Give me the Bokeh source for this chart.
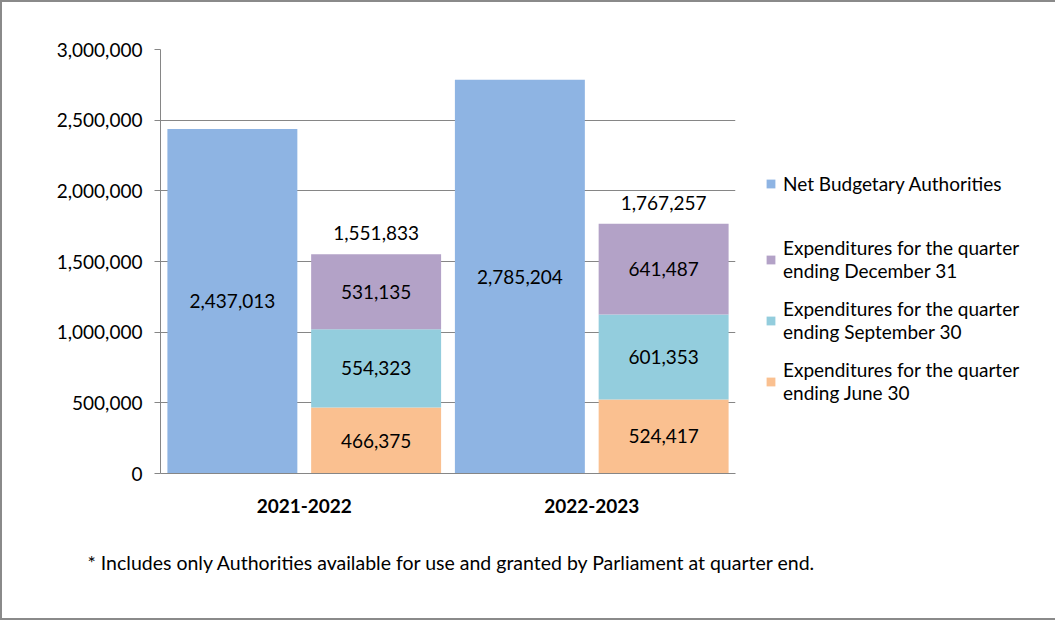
from bokeh.plotting import figure
from bokeh.models import (ColumnDataSource, FixedTicker, NumeralTickFormatter, Legend,
                          LegendItem, Title, Range1d)
from bokeh.core.properties import value
from bokeh.embed import file_html
from bokeh.resources import INLINE

# ---- data ----
years = ["2021-2022", "2022-2023"]
net_authorities = [2437013, 2785204]
q_june = [466375, 524417]
q_sept = [554323, 601353]
q_dec = [531135, 641487]
y_ticks = [0, 500000, 1000000, 1500000, 2000000, 2500000, 3000000]
legend_labels = ["Net Budgetary Authorities",
                 "Expenditures for the quarter\nending December 31",
                 "Expenditures for the quarter\nending September 30",
                 "Expenditures for the quarter\nending June 30"]
footnote = "* Includes only Authorities available for use and granted by Parliament at quarter end."

C_NET = "#8EB4E3"
C_DEC = "#B3A2C7"
C_SEP = "#93CDDD"
C_JUN = "#FAC090"
GRID = "#868686"
FONT = "Lato"
FS = "19px"

n = len(years)
x_net = [i + 0.25 for i in range(n)]
x_exp = [i + 0.75 for i in range(n)]
W = 0.452

b_jun = [0] * n
t_jun = [b + v for b, v in zip(b_jun, q_june)]
t_sep = [b + v for b, v in zip(t_jun, q_sept)]
t_dec = [b + v for b, v in zip(t_sep, q_dec)]

p = figure(frame_width=575, frame_height=424, output_backend="svg", toolbar_location=None,
           x_range=Range1d(0, n), y_range=Range1d(0, 3000000),
           min_border_left=158, min_border_right=318, min_border_top=47, min_border_bottom=145)
p.styles = {"border": "2px solid #8a8a8a"}
p.outline_line_color = None
p.background_fill_color = "white"
p.border_fill_color = "white"

src_net = ColumnDataSource(dict(x=x_net, top=net_authorities, mid=[v / 2 for v in net_authorities],
                                lab=[f"{v:,}" for v in net_authorities]))
src_exp = ColumnDataSource(dict(x=x_exp, b_jun=b_jun, t_jun=t_jun, t_sep=t_sep, t_dec=t_dec,
                                m_jun=[(a + b) / 2 for a, b in zip(b_jun, t_jun)],
                                m_sep=[(a + b) / 2 for a, b in zip(t_jun, t_sep)],
                                m_dec=[(a + b) / 2 for a, b in zip(t_sep, t_dec)],
                                l_jun=[f"{v:,}" for v in q_june],
                                l_sep=[f"{v:,}" for v in q_sept],
                                l_dec=[f"{v:,}" for v in q_dec],
                                l_tot=[f"{v:,}" for v in t_dec]))

r_net = p.vbar(x="x", top="top", bottom=0, width=W, source=src_net, fill_color=C_NET, line_color=None)
r_jun = p.vbar(x="x", top="t_jun", bottom="b_jun", width=W, source=src_exp, fill_color=C_JUN, line_color=None)
r_sep = p.vbar(x="x", top="t_sep", bottom="t_jun", width=W, source=src_exp, fill_color=C_SEP, line_color=None)
r_dec = p.vbar(x="x", top="t_dec", bottom="t_sep", width=W, source=src_exp, fill_color=C_DEC, line_color=None)
# invisible renderer used only as a spacer entry in the legend
r_gap = p.vbar(x=[], top=[], width=W, fill_alpha=0, line_alpha=0)

tk = dict(text_font=value(FONT), text_font_size=FS, text_color="#000000",
          text_align="center", text_baseline="middle")
p.text(x="x", y="mid", text="lab", source=src_net, **tk)
p.text(x="x", y="m_jun", text="l_jun", source=src_exp, **tk)
p.text(x="x", y="m_sep", text="l_sep", source=src_exp, **tk)
p.text(x="x", y="m_dec", text="l_dec", source=src_exp, **tk)
p.text(x="x", y="t_dec", text="l_tot", source=src_exp, y_offset=-21, **tk)

# axes
p.xgrid.visible = False
p.ygrid.grid_line_color = GRID
p.ygrid.grid_line_width = 1
p.yaxis.ticker = FixedTicker(ticks=y_ticks)
p.yaxis.formatter = NumeralTickFormatter(format="0,0")
p.yaxis.axis_line_color = GRID
p.yaxis.major_tick_line_color = GRID
p.yaxis.major_tick_out = 6
p.yaxis.major_tick_in = 0
p.yaxis.minor_tick_line_color = None
p.yaxis.major_label_standoff = 12
p.yaxis.major_label_text_font = FONT
p.yaxis.major_label_text_font_size = FS
p.yaxis.major_label_text_color = "#000000"

p.xaxis.ticker = FixedTicker(ticks=[i + 0.5 for i in range(n)])
p.xaxis.major_label_overrides = {i + 0.5: y for i, y in enumerate(years)}
p.xaxis.axis_line_color = GRID
p.xaxis.major_tick_line_color = None
p.xaxis.minor_tick_line_color = None
p.xaxis.major_label_standoff = 19
p.xaxis.major_label_text_font = FONT
p.xaxis.major_label_text_font_size = FS
p.xaxis.major_label_text_font_style = "bold"
p.xaxis.major_label_text_color = "#000000"

# legend (right side panel)
lg = Legend(items=[LegendItem(label=legend_labels[0], renderers=[r_net]),
                   LegendItem(label="", renderers=[r_gap]),
                   LegendItem(label=legend_labels[1], renderers=[r_dec]),
                   LegendItem(label=legend_labels[2], renderers=[r_sep]),
                   LegendItem(label=legend_labels[3], renderers=[r_jun])],
            location=(30, 69), orientation="vertical",
            label_text_font=FONT, label_text_font_size=FS, label_text_color="#000000",
            glyph_width=11, glyph_height=11, label_standoff=7, spacing=15,
            label_height=0, padding=0, margin=0, border_line_color=None,
            background_fill_alpha=0, label_text_line_height=1.1)
p.add_layout(lg, "right")

# footnote
p.add_layout(Title(text=footnote, text_font=FONT, text_font_size="19.5px",
                   text_font_style="normal", text_color="#000000", align="left",
                   offset=-73, standoff=66), "below")

open("out.html", "w").write(file_html(p, INLINE))
